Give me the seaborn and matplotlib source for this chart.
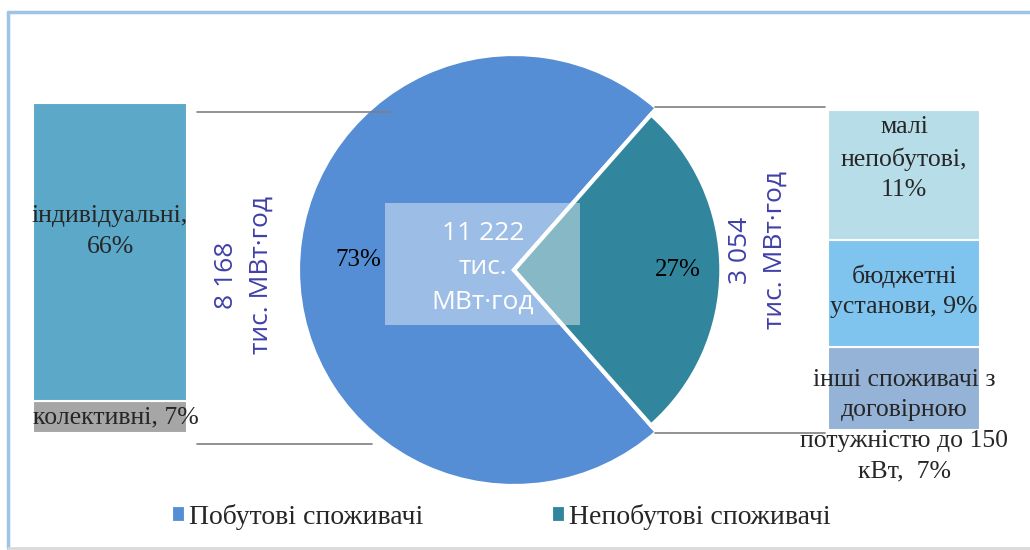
import numpy as np
import matplotlib
matplotlib.use('Agg')
import matplotlib.pyplot as plt
import seaborn as sns
from matplotlib.patches import Rectangle
from matplotlib.lines import Line2D

# Дані
pie_labels = ['Побутові споживачі', 'Непобутові споживачі']
pie_shares = [73, 27]
pie_totals = ['8 168', '3 054']
total_value = '11 222'
unit = 'тис. МВт·год'

# складові побутових (знизу вгору)
left_names = ['колективні', 'індивідуальні']
left_shares = [7, 66]
left_sep = [', ', ',\n']

# складові непобутових (знизу вгору)
right_names = ['інші споживачі з\nдоговірною\nпотужністю до 150\nкВт', 'бюджетні\nустанови', 'малі\nнепобутові']
right_shares = [7, 9, 11]
right_sep = [',  ', ', ', ',\n']

# Оформлення
pie_colors = ['#558ED5', '#31859C']
left_colors = ['#A6A6A6', '#5BA8C9']
right_colors = ['#95B3D7', '#7FC4EE', '#B7DDE8']
total_color = '#4040A8'
serif = ['Liberation Serif', 'DejaVu Serif']
sans = ['Open Sans', 'DejaVu Sans']

W, H = 1030, 550


def box(x0, y0, x1, y1):
    # піксельні межі -> координати фігури
    return [x0 / W, 1 - y1 / H, (x1 - x0) / W, (y1 - y0) / H]


sns.set_theme(style='white')
plt.rcParams['font.family'] = serif

fig = plt.figure(figsize=(W / 100, H / 100), dpi=100)

# рамка діаграми
fig.add_artist(Line2D([8 / W, 8 / W], [1 - 548 / H, 1 - 12 / H], transform=fig.transFigure, color='#9DC3E6', lw=2.5))
fig.add_artist(Line2D([8 / W, 1], [1 - 12 / H, 1 - 12 / H], transform=fig.transFigure, color='#9DC3E6', lw=2.5))
fig.add_artist(Line2D([8 / W, 1], [1 - 548 / H, 1 - 548 / H], transform=fig.transFigure, color='#D9D9D9', lw=2))

# Кругова діаграма
ax = fig.add_axes(box(298, 54, 730, 486))
wedges, texts, autotexts = ax.pie(
    pie_shares, colors=pie_colors, startangle=360 * pie_shares[1] / 200,
    autopct='%.0f%%', pctdistance=0.72,
    wedgeprops=dict(edgecolor='white', linewidth=3),
    textprops=dict(fontsize=18, color='black', family=serif))
wedges[1].set_radius(0.96)
autotexts[0].set_y(autotexts[0].get_position()[1] + 0.045)
autotexts[1].set_x(autotexts[1].get_position()[0] + 0.04)
ax.set_xlim(-1, 1)
ax.set_ylim(-1, 1)
ax.set_aspect('equal')
ax.axis('off')

# напівпрозорий блок із загальним обсягом
ax.add_patch(Rectangle((-0.597, -0.255), 0.903, 0.565, facecolor='white', alpha=0.42, edgecolor='none', zorder=5))
ax.text(-0.144, 0.01, f'{total_value}\nтис.\nМВт·год', ha='center', va='center', color='white',
        fontsize=19, family=sans, linespacing=1.5, zorder=6)


def stacked(rect, shares, colors, names, seps, dys, dxs):
    a = fig.add_axes(rect)
    bottoms = np.concatenate([[0], np.cumsum(shares)[:-1]])
    a.bar([0] * len(shares), shares, bottom=bottoms, width=1, color=colors,
          edgecolor='white', linewidth=1.5)
    for b, s, n, sp, dy, dx in zip(bottoms, shares, names, seps, dys, dxs):
        a.text(dx, b + s / 2 + dy, f'{n}{sp}{s}%', ha='center', va='center',
               fontsize=18.5, linespacing=1.5, clip_on=False)
    a.set_xlim(-0.5, 0.5)
    a.set_ylim(0, sum(shares))
    a.axis('off')
    return a


stacked(box(33, 103, 187, 433), left_shares, left_colors, left_names, left_sep, [0, 4.6], [0.04, 0])
stacked(box(828, 110, 980, 430), right_shares, right_colors, right_names, right_sep, [-3.1, 0.2, 1.4], [0, 0, 0])

# обсяги вздовж кругової діаграми
fig.text(244 / W, 1 - 275 / H, f'{pie_totals[0]}\n{unit}', rotation=90, ha='center', va='center',
         color=total_color, fontsize=19, family=sans, linespacing=1.5)
fig.text(758 / W, 1 - 250 / H, f'{pie_totals[1]}\n{unit}', rotation=90, ha='center', va='center',
         color=total_color, fontsize=19, family=sans, linespacing=1.5)

# сполучні лінії
for xs, y in [((197, 390), 112), ((197, 372), 444), ((655, 825), 107), ((655, 825), 433)]:
    fig.add_artist(Line2D([xs[0] / W, xs[1] / W], [1 - y / H, 1 - y / H], transform=fig.transFigure,
                          color='#7F7F7F', lw=1.2))

# легенда
fig.legend(wedges, pie_labels, loc='center', bbox_to_anchor=(501 / W, 1 - 517 / H), ncol=2,
           frameon=False, fontsize=20, handlelength=0.55, handleheight=0.6, handletextpad=0.1,
           columnspacing=4.6)

fig.savefig('out.png', dpi=100)
